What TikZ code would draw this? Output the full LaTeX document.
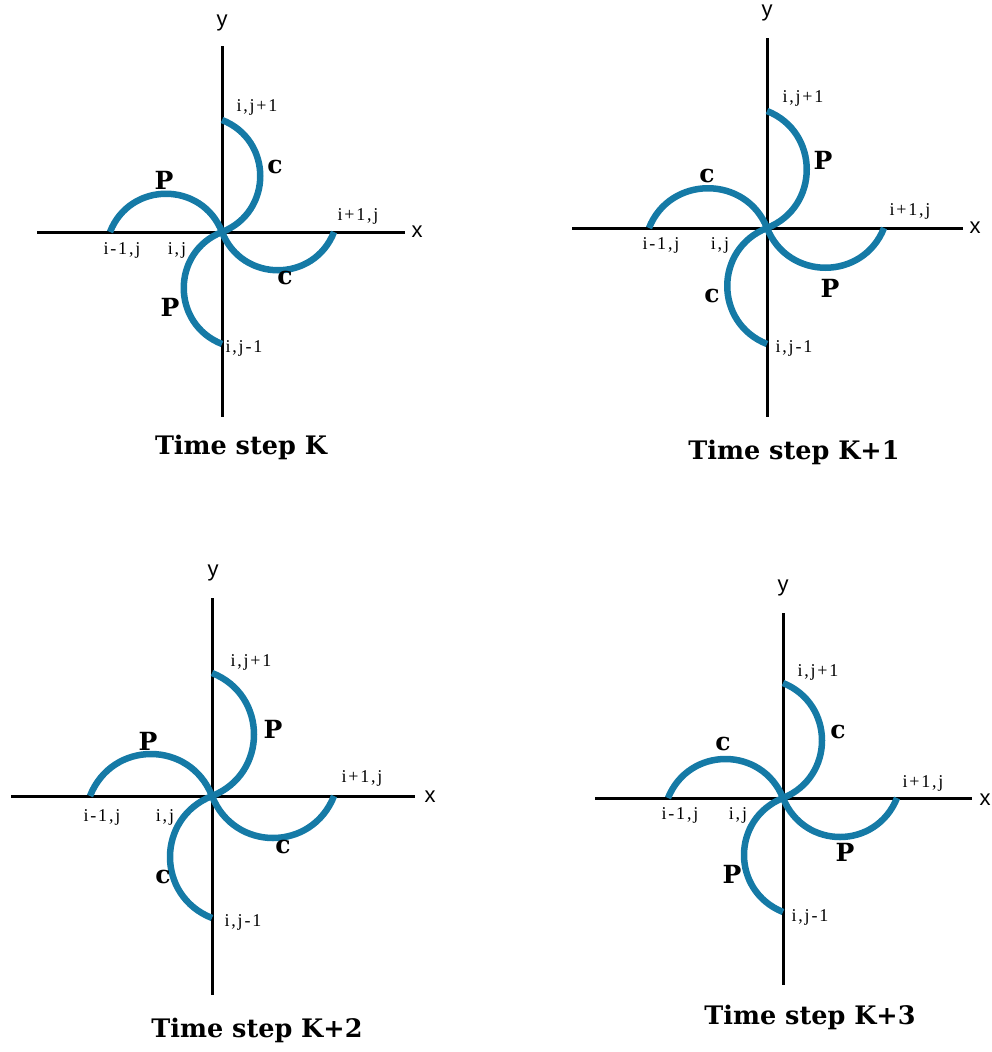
\documentclass[tikz,border=0pt]{standalone}
\usepackage{fontspec}
\setmainfont{Liberation Serif}
\newfontfamily\ptserif{Liberation Serif}[LetterSpace=10]
\newfontfamily\dvserif{DejaVu Serif}
\newfontfamily\axsans{Liberation Sans}
\definecolor{arcblue}{RGB}{21,122,166}
\begin{document}
\begin{tikzpicture}[x=1pt,y=-1pt,
  axisline/.style={line width=3pt,black},
  pinarc/.style={line width=6.5pt,arcblue},
  ptlabel/.style={font=\ptserif\fontsize{18}{18}\selectfont,inner sep=0pt},
  axlabel/.style={font=\axsans\fontsize{22}{22}\selectfont,inner sep=0pt},
  pclabel/.style={font=\dvserif\bfseries\fontsize{25}{25}\selectfont,inner sep=0pt},
  titlelabel/.style={font=\dvserif\bfseries\fontsize{25.5}{25.5}\selectfont,inner sep=0pt}]
\useasboundingbox (0,0) rectangle (992,1052);

% ---------- Panel 1: Time step K ----------
\coordinate (o1) at (222,232);
\coordinate (xl1) at (37,232);  \coordinate (xr1) at (405,232);
\coordinate (yt1) at (222,46);  \coordinate (yb1) at (222,417);
\coordinate (L1) at (110,232);  \coordinate (R1) at (334,232);
\coordinate (T1) at (222,120);  \coordinate (B1) at (222,344);
\draw[axisline] (xl1) -- (xr1);
\draw[axisline] (yt1) -- (yb1);
\draw[pinarc] (L1) .. controls +(20,-51) and +(-20,-51) .. (o1);
\draw[pinarc] (T1) .. controls +(51,20) and +(51,-20) .. (o1);
\draw[pinarc] (o1) .. controls +(20,51) and +(-20,51) .. (R1);
\draw[pinarc] (o1) .. controls +(-51,20) and +(-51,-20) .. (B1);
\node[axlabel] (ylab1) at (222,23) {y};
\node[axlabel] (xlab1) at (417,232) {x};
\node[ptlabel] (n1a) at (257,107) {i,j+1};
\node[ptlabel] (n1b) at (358,216) {i+1,j};
\node[ptlabel] (n1c) at (122,250) {i-1,j};
\node[ptlabel] (n1d) at (177,250) {i,j};
\node[ptlabel] (n1e) at (244,348) {i,j-1};
\node[pclabel] (p1a) at (164,180) {P};
\node[pclabel] (p1b) at (275,167) {c};
\node[pclabel] (p1c) at (285,278) {c};
\node[pclabel] (p1d) at (170,307) {P};
\node[titlelabel] (t1) at (241,447) {Time step K};

% ---------- Panel 2: Time step K+1 ----------
\coordinate (o2) at (767,228);
\coordinate (xl2) at (572,228);  \coordinate (xr2) at (963,228);
\coordinate (yt2) at (767,38);   \coordinate (yb2) at (767,417);
\coordinate (L2) at (649,228);   \coordinate (R2) at (884,228);
\coordinate (T2) at (767,111);   \coordinate (B2) at (767,344);
\draw[axisline] (xl2) -- (xr2);
\draw[axisline] (yt2) -- (yb2);
\draw[pinarc] (L2) .. controls +(21,-53) and +(-21,-53) .. (o2);
\draw[pinarc] (T2) .. controls +(53,21) and +(53,-21) .. (o2);
\draw[pinarc] (o2) .. controls +(21,53) and +(-21,53) .. (R2);
\draw[pinarc] (o2) .. controls +(-53,21) and +(-53,-21) .. (B2);
\node[axlabel] (ylab2) at (767,13) {y};
\node[axlabel] (xlab2) at (975,228) {x};
\node[ptlabel] (n2a) at (803,98) {i,j+1};
\node[ptlabel] (n2b) at (910,211) {i+1,j};
\node[ptlabel] (n2c) at (661,245) {i-1,j};
\node[ptlabel] (n2d) at (720,245) {i,j};
\node[ptlabel] (n2e) at (794,348) {i,j-1};
\node[pclabel] (p2a) at (707,176) {c};
\node[pclabel] (p2b) at (823,160) {P};
\node[pclabel] (p2c) at (830,288) {P};
\node[pclabel] (p2d) at (712,296) {c};
\node[titlelabel] (t2) at (794,452) {Time step K+1};

% ---------- Panel 3: Time step K+2 ----------
\coordinate (o3) at (212,796);
\coordinate (xl3) at (11,796);   \coordinate (xr3) at (415,796);
\coordinate (yt3) at (212,598);  \coordinate (yb3) at (212,995);
\coordinate (L3) at (90,796);    \coordinate (R3) at (334,796);
\coordinate (T3) at (212,673);   \coordinate (B3) at (212,918);
\draw[axisline] (xl3) -- (xr3);
\draw[axisline] (yt3) -- (yb3);
\draw[pinarc] (L3) .. controls +(22,-56) and +(-22,-56) .. (o3);
\draw[pinarc] (T3) .. controls +(56,22) and +(56,-22) .. (o3);
\draw[pinarc] (o3) .. controls +(22,56) and +(-22,56) .. (R3);
\draw[pinarc] (o3) .. controls +(-56,22) and +(-56,-22) .. (B3);
\node[axlabel] (ylab3) at (213,573) {y};
\node[axlabel] (xlab3) at (430,797) {x};
\node[ptlabel] (n3a) at (251,662) {i,j+1};
\node[ptlabel] (n3b) at (362,778) {i+1,j};
\node[ptlabel] (n3c) at (102,817) {i-1,j};
\node[ptlabel] (n3d) at (165,817) {i,j};
\node[ptlabel] (n3e) at (243,922) {i,j-1};
\node[pclabel] (p3a) at (148,741) {P};
\node[pclabel] (p3b) at (273,729) {P};
\node[pclabel] (p3c) at (283,847) {c};
\node[pclabel] (p3d) at (163,877) {c};
\node[titlelabel] (t3) at (257,1030) {Time step K+2};

% ---------- Panel 4: Time step K+3 ----------
\coordinate (o4) at (783,798);
\coordinate (xl4) at (595,798);  \coordinate (xr4) at (972,798);
\coordinate (yt4) at (783,613);  \coordinate (yb4) at (783,985);
\coordinate (L4) at (668,798);   \coordinate (R4) at (897,798);
\coordinate (T4) at (783,683);   \coordinate (B4) at (783,912);
\draw[axisline] (xl4) -- (xr4);
\draw[axisline] (yt4) -- (yb4);
\draw[pinarc] (L4) .. controls +(21,-52) and +(-21,-52) .. (o4);
\draw[pinarc] (T4) .. controls +(52,21) and +(52,-21) .. (o4);
\draw[pinarc] (o4) .. controls +(21,52) and +(-21,52) .. (R4);
\draw[pinarc] (o4) .. controls +(-52,21) and +(-52,-21) .. (B4);
\node[axlabel] (ylab4) at (783,588) {y};
\node[axlabel] (xlab4) at (985,800) {x};
\node[ptlabel] (n4a) at (818,672) {i,j+1};
\node[ptlabel] (n4b) at (923,783) {i+1,j};
\node[ptlabel] (n4c) at (680,815) {i-1,j};
\node[ptlabel] (n4d) at (738,815) {i,j};
\node[ptlabel] (n4e) at (810,917) {i,j-1};
\node[pclabel] (p4a) at (723,744) {c};
\node[pclabel] (p4b) at (838,732) {c};
\node[pclabel] (p4c) at (845,852) {P};
\node[pclabel] (p4d) at (732,874) {P};
\node[titlelabel] (t4) at (810,1017) {Time step K+3};
\end{tikzpicture}
\end{document}
